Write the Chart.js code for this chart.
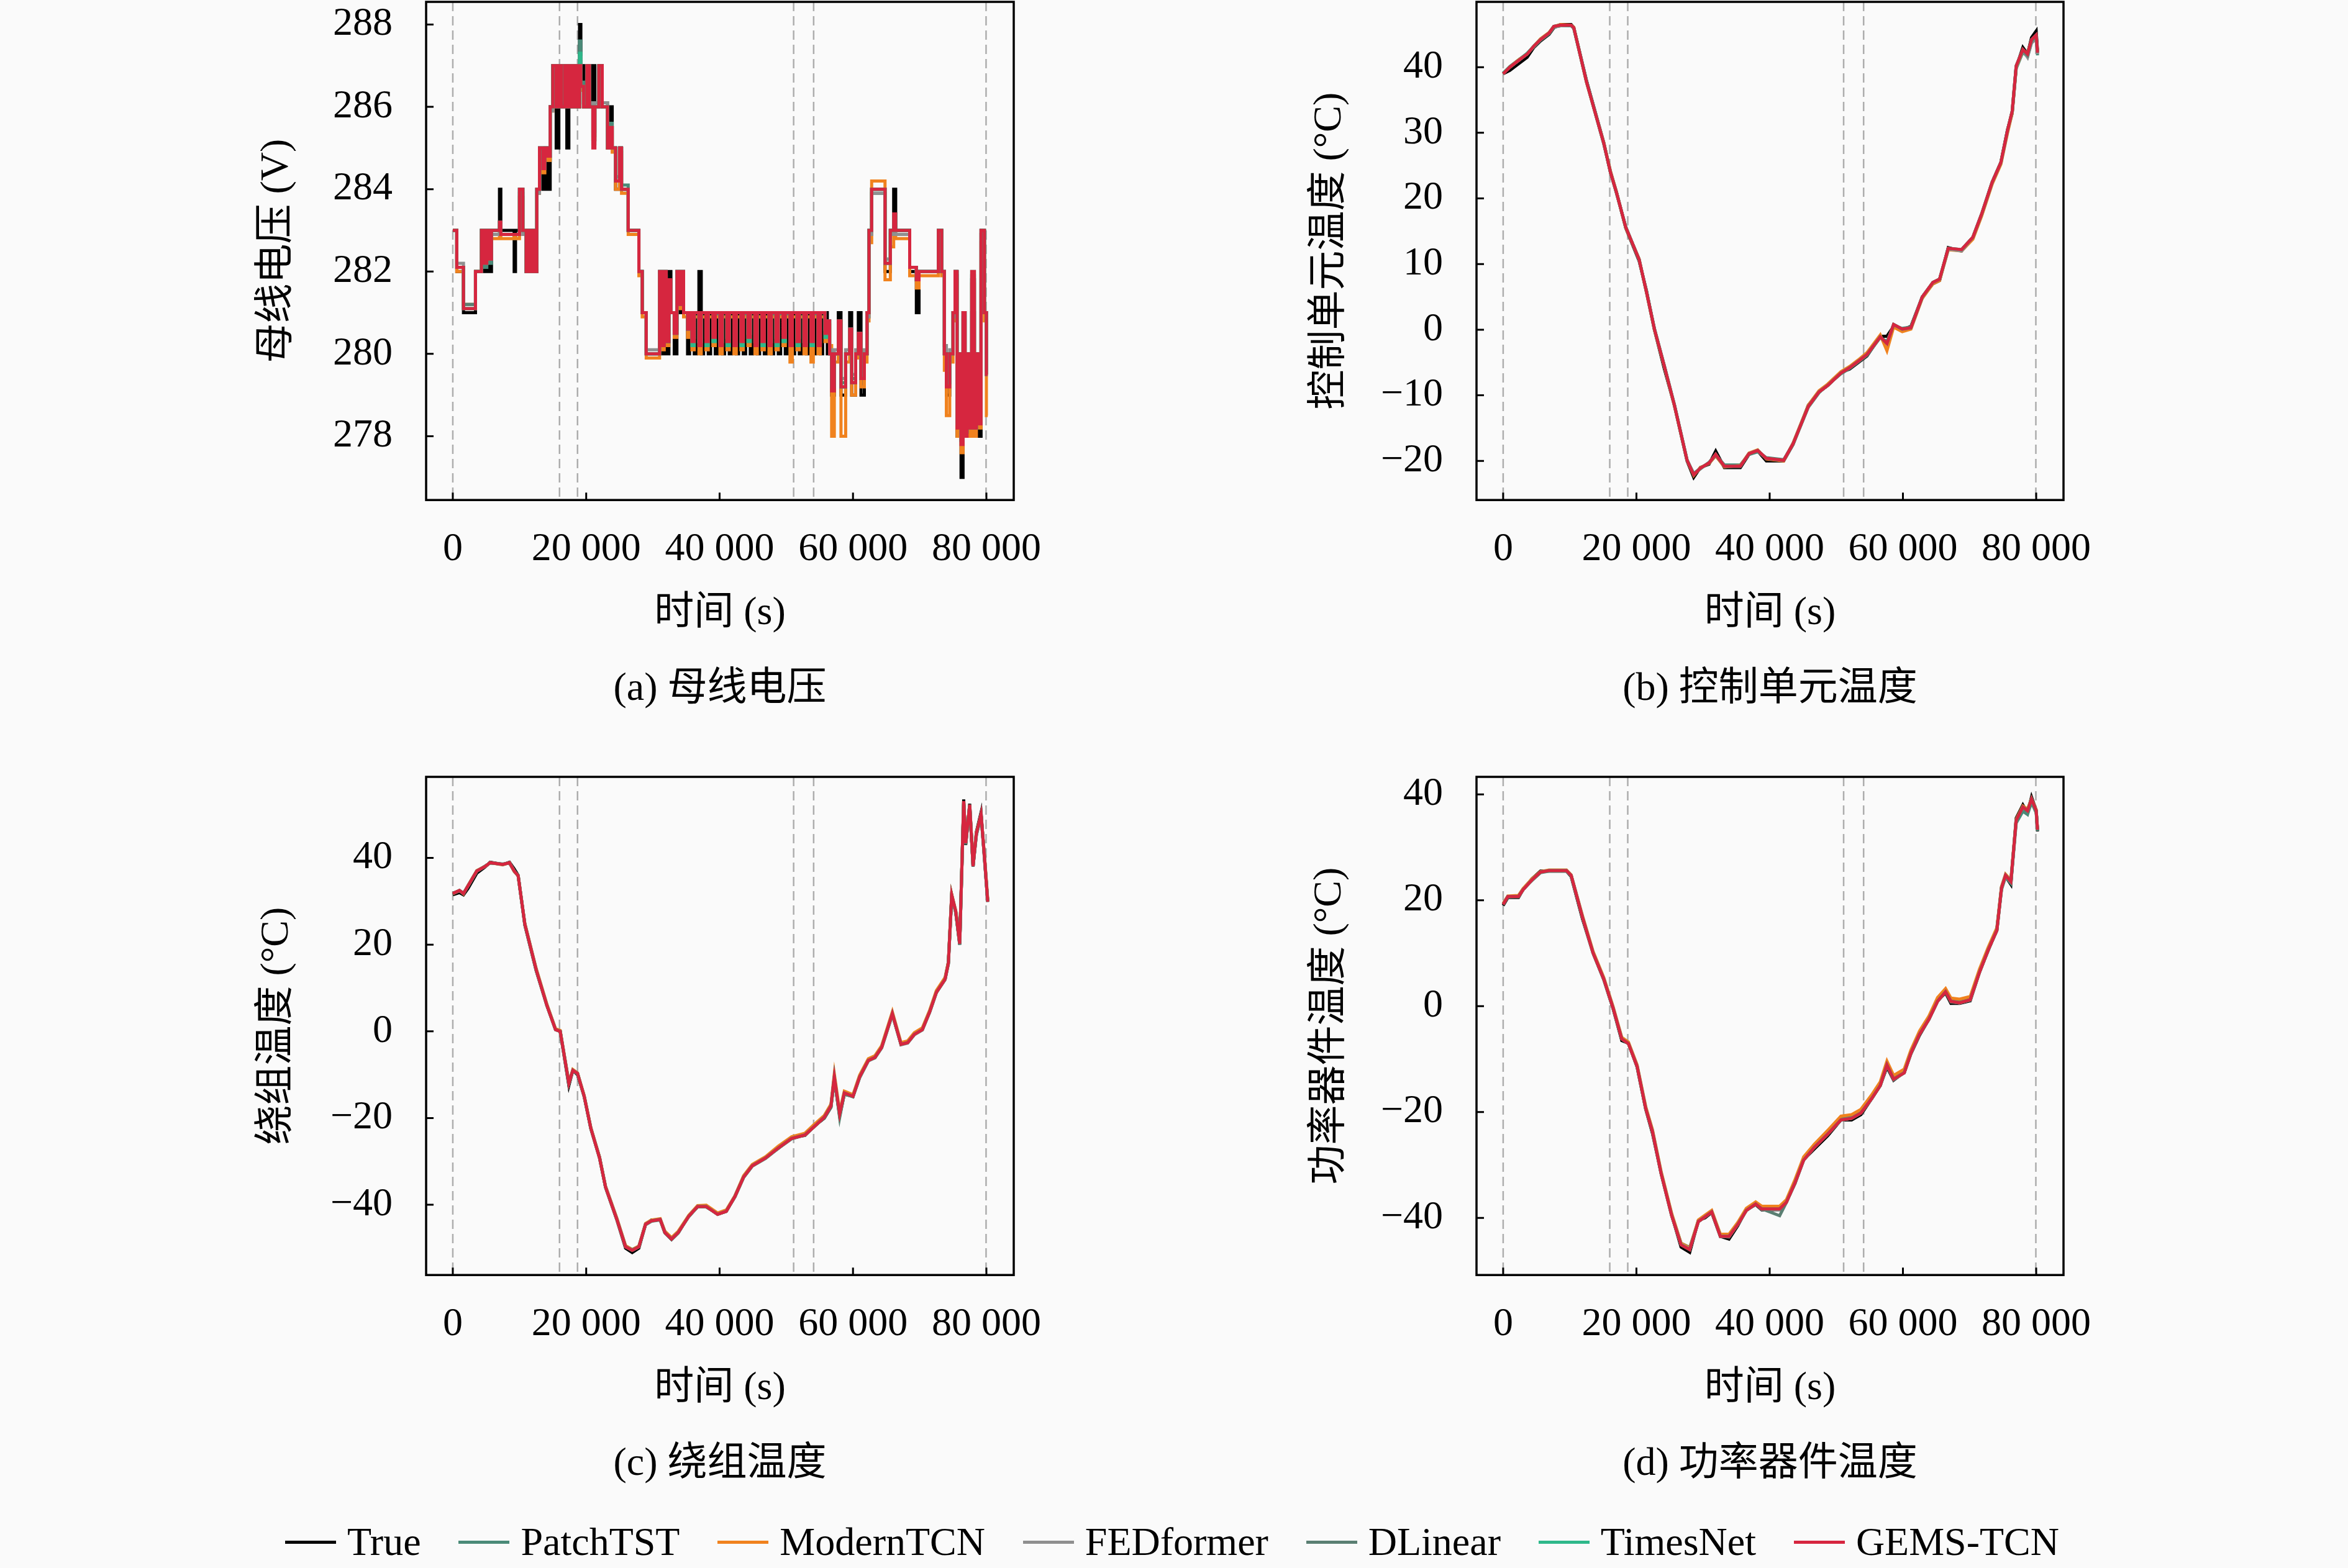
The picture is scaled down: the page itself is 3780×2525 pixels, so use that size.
<!DOCTYPE html>
<html lang="zh">
<head>
<meta charset="utf-8">
<title>预测结果对比</title>
<script src="https://cdn.jsdelivr.net/npm/chart.js@4.4.1/dist/chart.umd.min.js"></script>
<style>
  html, body { margin: 0; padding: 0; background: #fafafa; }
  body { width: 3780px; height: 2525px; position: relative; overflow: hidden;
         font-family: 'Liberation Serif', 'Noto Sans CJK SC', serif; }
  .panel { position: absolute; }
  #legend { position: absolute; left: 459px; top: 2450px; width: 2856px; height: 66px;
            display: flex; justify-content: space-between; align-items: center;
            font-size: 64px; color: #000; }
  .item { display: flex; align-items: center; white-space: nowrap; }
  .item i { display: inline-block; width: 82px; height: 5px; margin-right: 18px; }
</style>
</head>
<body>
<div class="panel" style="left:400px;top:0px"><canvas id="chart-a" width="1332" height="1159"></canvas></div>
<div class="panel" style="left:2095px;top:0px"><canvas id="chart-b" width="1327" height="1159"></canvas></div>
<div class="panel" style="left:400px;top:1248px"><canvas id="chart-c" width="1332" height="1159"></canvas></div>
<div class="panel" style="left:2095px;top:1248px"><canvas id="chart-d" width="1327" height="1159"></canvas></div>
<div id="legend"></div>

<script>
// ---- shared ----
const seriesNames = ['True', 'PatchTST', 'ModernTCN', 'FEDformer', 'DLinear', 'TimesNet', 'GEMS-TCN'];
const seriesColors = ['#000000', '#4a8a78', '#f0821e', '#8f8f8f', '#5a7f72', '#2eb88a', '#d6263f'];
const splitTimes = [0, 16000, 18700, 51100, 54100, 79950];
const xTicks = [0, 20000, 40000, 60000, 80000];
const xTickLabels = ['0', '20 000', '40 000', '60 000', '80 000'];

// ---- (a) 母线电压 ----
const tA = [0,600,1600,3400,4300,4700,5100,5500,5800,7000,
  7200,9200,9400,10000,10500,11000,11400,11700,12100,12300,
  12600,13000,13500,13800,14200,14600,15000,15500,15900,16300,
  16800,17100,17400,17800,18200,18600,19000,19200,19600,20100,
  20500,21000,21300,21900,22400,23200,23600,23900,24400,25000,
  25300,26300,27900,28400,29000,31000,31300,31700,32000,32400,
  32700,33200,33600,33900,34300,34600,35200,
  35500,35850,36200,36550,36900,37250,37600,37950,38300,38650,
  39000,39350,39700,40050,40400,40750,41100,41450,41800,42150,
  42500,42850,43200,43550,43900,44250,44600,44950,45300,45650,
  46000,46350,46700,47050,47400,47750,48100,48450,48800,49150,
  49500,49850,50200,50550,50900,51250,51600,51950,52300,52650,
  53000,53350,53700,54050,54400,54750,55100,55450,55800,56150,
  56500,56800,57200,57800,58200,58900,59500,59800,60400,60800,
  61200,61700,62100,62400,62800,64800,65600,66100,66400,68500,
  69500,69900,72800,73300,73700,74000,74500,75000,75300,75600,
  75900,76200,76500,76800,77100,77400,77800,78200,78500,78900,
  79200,79700,80000,80200];
const aTrue = [283,282,281,282,283,282,283,282,283,284,
  283,282,283,284,283,282,283,282,283,282,
  284,285,284,285,284,286,287,285,287,286,
  287,285,287,286,287,286,288,287,286,287,
  286,287,286,287,286,285,286,285,284,285,
  284,283,282,281,280,282,280,282,280,282,
  281,280,282,281,282,281,280,
  281,281,280,281,282,280,281,281,280,281,
  281,280,281,281,280,281,281,280,281,281,
  280,281,281,280,281,281,280,281,281,280,
  281,281,280,281,281,280,281,281,280,281,
  281,280,281,281,280,281,281,280,281,281,
  280,281,281,280,281,281,280,281,281,280,
  280,279,280,281,279,280,281,279,280,281,
  279,280,281,283,284,282,283,284,283,282,
  281,282,283,282,280,279,280,281,282,278,
  280,277,281,278,280,278,281,278,280,278,
  283,281,280,280];
const aPatchTST = [283,282.1,281.1,282,283,282.1,283,282.2,283,283.1,
  282.9,282.8,282.9,283.9,283,282.1,283,282.1,283,282.1,
  284,284.9,284.5,285,284.7,286,287,286.1,287,286.1,
  287,286.1,287,286.1,287,286.1,287.6,286.6,286.1,287,
  286.1,285.3,286.1,286.9,286.1,285.1,285.6,285,284.3,285,
  284.1,283,282,281,280,281.9,280.3,281.9,280.3,281.8,
  281,280.6,281.9,281.2,281.9,281,280.6,
  280.9,280.4,281,281,280.3,280.9,280.9,280.4,281,281,
  280.5,281,280.9,280.3,281,281,280.4,280.9,280.9,280.3,
  281,281,280.4,281,280.9,280.5,281,281,280.3,280.9,
  280.9,280.4,281,281,280.3,281,280.9,280.4,280.9,281,
  280.5,281,280.9,280.3,281,281,280.4,280.9,280.9,280.3,
  281,281,280.4,281,280.9,280.3,281,281,280.6,280.8,
  280.1,279.3,280,280.7,279.3,280,280.6,279.4,280,280.5,
  279.5,280,280.9,282.9,283.9,282.3,283,283.3,283,282.1,
  281.8,282,282.9,282,280.2,279.4,280,281,281.9,278.4,
  280,278,281,278.2,280,278.3,281.8,278.3,280,278.4,
  282.9,281,279.6,279.6];
const aModernTCN = [283,282,281.2,282,282.9,282.3,282.9,282.4,282.8,283.1,
  282.8,282.9,282.8,283.8,283,282.1,282.9,282.1,282.9,282.2,
  283.9,284.8,284.4,284.9,284.7,285.9,286.8,286,286.8,286.1,
  286.8,286,286.8,286.1,286.8,286,286.9,286.4,286,286.8,
  286.1,285.2,286,286.8,286,285,285.4,284.9,284,284.9,
  283.9,282.9,281.9,280.9,279.9,281.9,280.1,281.8,280.2,281.7,
  281,280.4,281.8,281.1,281.9,280.9,280.4,
  280.9,280.1,280.9,280.9,280,280.9,280.9,280.1,280.9,280.9,
  280.2,280.9,280.9,280,280.9,280.9,280.1,280.9,280.9,280,
  280.9,280.9,280.1,280.9,280.9,280.2,280.9,280.9,280,280.9,
  280.9,280.1,280.9,280.9,280,280.9,280.9,280.1,280.9,280.9,
  280.2,280.9,280.9,279.8,280.9,280.9,280.1,280.9,280.9,280,
  280.9,280.9,279.8,280.9,280.9,280,280.9,280.9,280.3,280.7,
  280.2,278,279.8,280.8,278,279.8,280.5,279,279.9,280.4,
  279.2,279.8,280.8,282.7,284.2,281.8,282.6,283,282.8,281.9,
  281.6,281.9,282.8,281.9,279.6,278.5,279.8,280.8,281.8,278,
  279.8,277.6,280.8,278,279.8,278,281.7,278,279.8,278.2,
  282.7,280.8,278.5,278.5];
const aFEDformer = [283,282.2,281.2,282,282.9,282.2,282.9,282.3,282.9,283.1,
  282.9,282.9,282.9,283.8,282.9,282.1,282.9,282.1,282.9,282.1,
  283.9,284.9,284.5,284.9,284.8,285.9,286.9,286.1,286.9,286.1,
  286.9,286.1,286.9,286.1,286.9,286.1,287.2,286.5,286.1,286.9,
  286.1,285.4,286.1,286.9,286.1,285.1,285.5,285,284.3,284.9,
  284,283,282,281,280.1,281.9,280.3,281.9,280.3,281.7,
  281,280.6,281.9,281.2,281.9,281,280.7,
  281,280.4,281,281,280.3,281,281,280.4,281,281,
  280.5,281,281,280.3,281,281,280.4,281,281,280.3,
  281,281,280.4,281,281,280.5,281,281,280.3,281,
  281,280.4,281,281,280.3,281,281,280.4,281,281,
  280.5,281,281,280.3,281,281,280.4,281,281,280.3,
  281,281,280.4,281,281,280.3,281,281,280.6,280.8,
  280.1,279.3,280.1,280.7,279.4,280.1,280.6,279.5,280.1,280.5,
  279.5,280.1,280.9,282.9,283.9,282.3,282.9,283.3,282.9,282.1,
  281.8,282,282.9,282,280.2,279.3,280.1,280.9,281.9,278.4,
  280,278,280.9,278.2,280,278.3,281.8,278.3,280,278.4,
  282.9,281,279.6,279.6];
const aDLinear = [283,282.1,281.2,282,283,282.2,283,282.3,283,283.2,
  282.9,282.9,282.9,284,283,282,283,282,283,282.1,
  284,285,284.5,285,284.8,286,287,286,287,286.1,
  287,286,287,286.1,287,286,287.1,286.5,286,287,
  286,285.2,286,287,286,285,285.5,285,284.2,285,
  284,283,282,281,280,282,280.2,282,280.3,281.8,
  281,280.5,282,281.2,282,281,280.6,
  281,280.3,281,281,280.3,281,281,280.3,281,281,
  280.4,281,281,280.3,281,281,280.3,281,281,280.3,
  281,281,280.3,281,281,280.4,281,281,280.3,281,
  281,280.3,281,281,280.3,281,281,280.3,281,281,
  280.4,281,281,280.3,281,281,280.3,281,281,280.3,
  281,281,280.3,281,281,280.3,281,281,280.5,280.8,
  280,279.2,280,280.8,279.2,280,280.6,279.3,280,280.5,
  279.4,280,281,283,284,282.2,283,283.4,283,282.1,
  281.8,282,283,282,280,279.3,280,281,282,278.3,
  280,277.9,281,278.1,280,278.2,281.9,278.2,280,278.3,
  283,281,279.5,279.5];
const aTimesNet = [283,282.1,281.1,282,283,282.2,283,282.3,283,283.2,
  282.9,282.9,282.9,284,283,282,283,282,283,282,
  284,285,284.5,285,284.8,286,287,286,287,286,
  287,286,287,286,287,286,287.3,286.5,286,287,
  286,285.1,286,287,286,285,285.5,285,284.2,285,
  284,283,282,281,280,282,280.2,282,280.3,281.8,
  281,280.5,282,281.2,282,281,280.6,
  281,280.2,281,281,280.2,281,281,280.2,281,281,
  280.3,281,281,280.2,281,281,280.2,281,281,280.2,
  281,281,280.2,281,281,280.3,281,281,280.2,281,
  281,280.2,281,281,280.2,281,281,280.2,281,281,
  280.3,281,281,280.2,281,281,280.2,281,281,280.2,
  281,281,280.2,281,281,280.2,281,281,280.4,280.8,
  280,279.2,280,280.8,279.2,280,280.6,279.3,280,280.5,
  279.4,280,281,283,284,282.2,283,283.4,283,282.1,
  281.8,282,283,282,280,279.3,280,281,282,278.3,
  280,277.9,281,278.1,280,278.2,282,278.2,280,278.3,
  283,281,279.5,279.5];
const aGEMS = [283,282.1,281.1,282,283,282.2,283,282.3,283,283.2,
  282.9,282.9,282.9,284,283,282,283,282,283,282,
  284,285,284.5,285,284.8,286,287,286,287,286,
  287,286,287,286,287,286,287,286.5,286,287,
  286,285,286,287,286,285,285.5,285,284.2,285,
  284,283,282,281,280,282,280.2,282,280.3,281.8,
  281,280.5,282,281.2,282,281,280.6,
  281,280.3,281,281,280.2,281,281,280.3,281,281,
  280.4,281,281,280.2,281,281,280.3,281,281,280.2,
  281,281,280.3,281,281,280.4,281,281,280.2,281,
  281,280.3,281,281,280.2,281,281,280.3,281,281,
  280.4,281,281,280.2,281,281,280.3,281,281,280.2,
  281,281,280.3,281,281,280.2,281,281,280.5,280.8,
  280,279.1,280,280.8,279.2,280,280.6,279.3,280,280.5,
  279.4,280,281,283,284,282.2,283,283.4,283,282.1,
  281.8,282,283,282,280,279.2,280,281,282,278.2,
  280,277.8,281,278,280,278.2,282,278.2,280,278.3,
  283,281,279.5,279.5];
const yTicksA = [278, 280, 282, 284, 286, 288];
const yTickLabelsA = ['278', '280', '282', '284', '286', '288'];

// ---- (b) 控制单元温度 ----
const tB = [0,1000,2300,3600,4600,5600,6900,7600,8600,10200,
  10600,12500,15100,16100,17000,18400,20400,21500,22700,24200,
  25700,27600,28600,29600,30900,31900,33200,35600,36900,38200,
  39500,42100,43500,45800,47400,48700,50700,52000,53300,54600,
  56600,57600,58600,59900,61200,62900,64500,65500,66800,68800,
  70500,71800,73400,74700,75700,76400,77000,78000,78700,79300,
  80000,80200];
const bTrue = [39.0,39.5,40.5,41.5,43.0,44.0,45.0,46.0,46.5,46.5,
  46.0,38.0,28.5,24.0,21.0,15.5,10.5,6.0,0.0,-6.0,
  -11.5,-20.0,-22.5,-21.0,-20.5,-18.5,-21.0,-21.0,-19.0,-18.5,
  -20.0,-20.0,-17.5,-11.5,-9.5,-8.5,-6.5,-6.0,-5.0,-4.0,
  -1.0,-1.0,0.5,0.0,0.5,5.0,7.0,7.5,12.5,12.0,
  14.0,17.5,22.5,25.5,30.5,33.0,40.0,43.0,42.0,44.5,
  45.5,42.5];
const bPatchTST = [39.1,40.1,41.1,42.1,43.1,44.1,45.1,46.1,46.3,46.3,
  45.9,37.9,28.3,24.1,20.8,15.7,10.6,5.9,0.2,-5.5,
  -11.4,-19.8,-22.0,-21.2,-20.2,-19.1,-20.6,-20.6,-19.0,-18.6,
  -19.5,-19.8,-17.5,-11.8,-9.6,-8.4,-6.7,-5.9,-4.9,-3.9,
  -1.2,-1.8,0.6,0.2,0.4,4.8,7.1,7.6,12.2,12.1,
  14.0,17.4,22.4,25.4,30.2,33.1,39.8,42.3,41.6,43.8,
  44.4,41.8];
const bModernTCN = [39.0,40.0,41.1,42.0,43.2,44.3,45.3,46.2,46.5,46.4,
  46.1,37.7,28.5,24.2,21.0,15.5,10.8,5.7,0.0,-5.7,
  -11.6,-19.9,-22.2,-21.0,-20.4,-19.2,-20.9,-20.7,-18.8,-18.3,
  -19.7,-20.0,-17.3,-11.5,-9.3,-8.3,-6.4,-5.6,-4.6,-3.5,
  -0.8,-3.2,0.4,-0.3,0.1,4.8,7.0,7.5,12.2,12.0,
  13.8,17.3,22.2,25.2,30.0,33.0,40.0,42.5,42.2,44.0,
  44.6,42.4];
const bFEDformer = [39.0,40.0,41.0,42.0,43.2,44.2,45.2,46.1,46.3,46.4,
  46.0,37.8,28.4,24.0,20.9,15.6,10.7,5.8,0.1,-5.6,
  -11.5,-19.9,-21.9,-21.1,-20.3,-19.0,-20.8,-20.8,-18.9,-18.4,
  -19.6,-19.9,-17.4,-11.7,-9.5,-8.5,-6.6,-5.8,-4.8,-3.8,
  -1.1,-2.0,0.8,0.1,0.3,5.0,7.2,7.7,12.3,12.0,
  14.1,17.6,22.5,25.5,30.4,33.3,40.1,42.6,41.5,43.7,
  44.3,42.0];
const bDLinear = [39.0,40.0,41.0,42.0,43.1,44.2,45.2,46.2,46.4,46.4,
  46.0,37.9,28.4,24.0,20.9,15.6,10.7,5.8,0.1,-5.6,
  -11.5,-19.9,-22.0,-21.1,-20.3,-19.1,-20.8,-20.8,-18.9,-18.5,
  -19.6,-19.9,-17.4,-11.7,-9.5,-8.5,-6.6,-5.8,-4.8,-3.8,
  -1.1,-2.0,0.8,0.1,0.3,5.0,7.2,7.7,12.4,12.2,
  14.1,17.6,22.5,25.5,30.4,33.3,40.2,42.6,41.8,44.0,
  44.7,42.3];
const bTimesNet = [39.1,40.0,41.0,42.1,43.2,44.2,45.2,46.2,46.4,46.4,
  46.0,37.8,28.4,24.0,20.9,15.6,10.7,5.8,0.1,-5.6,
  -11.5,-19.9,-22.1,-21.1,-20.3,-19.0,-20.8,-20.8,-18.9,-18.4,
  -19.6,-19.9,-17.4,-11.7,-9.5,-8.5,-6.6,-5.8,-4.8,-3.8,
  -1.1,-2.1,0.8,0.1,0.3,5.0,7.2,7.7,12.4,12.2,
  14.1,17.6,22.5,25.5,30.4,33.3,40.2,42.7,42.0,44.2,
  44.9,42.2];
const bGEMS = [39.0,40.0,41.0,42.0,43.2,44.2,45.2,46.2,46.4,46.4,
  46.0,37.8,28.4,24.0,20.9,15.6,10.7,5.8,0.1,-5.6,
  -11.5,-19.9,-22.1,-21.1,-20.3,-19.0,-20.8,-20.8,-18.9,-18.4,
  -19.6,-19.9,-17.4,-11.7,-9.5,-8.5,-6.6,-5.8,-4.8,-3.8,
  -1.1,-2.1,0.8,0.1,0.3,5.0,7.2,7.7,12.4,12.2,
  14.1,17.6,22.5,25.5,30.4,33.3,40.2,42.7,42.0,44.2,
  44.9,42.2];
const yTicksB = [-20, -10, 0, 10, 20, 30, 40];
const yTickLabelsB = ['\u221220', '\u221210', '0', '10', '20', '30', '40'];

// ---- (c) 绕组温度 ----
const tC = [0,1000,1600,2300,3600,4900,5600,7500,8500,9200,
  9800,10800,12500,14100,15400,16100,17400,18000,18700,19700,
  20700,22000,22900,24600,25900,26900,27900,28900,29800,31100,
  31800,32800,33800,35400,36700,38000,39700,41000,42300,43600,
  44900,46900,48800,50800,52800,54100,55700,56700,57200,58000,
  58700,60000,61000,62300,63300,64300,65900,67200,68200,69200,
  70400,71500,72500,73800,74300,74800,75400,76000,76600,76900,
  77500,78000,78500,79200,79700,80200];
const cTrue = [31.5,32.0,31.5,33.0,36.5,38.0,39.0,38.5,39.0,37.5,
  36.0,24.5,14.0,6.0,0.5,0.0,-12.5,-9.0,-10.0,-15.0,
  -22.5,-29.0,-36.0,-43.5,-50.0,-51.0,-50.0,-44.5,-43.5,-43.5,
  -46.5,-48.0,-46.5,-42.5,-40.5,-40.5,-42.0,-41.5,-38.0,-33.5,
  -31.0,-29.0,-27.0,-24.5,-24.0,-22.0,-20.0,-17.5,-11.0,-19.5,
  -14.5,-15.0,-10.5,-6.5,-6.0,-3.5,4.0,-3.0,-2.5,-0.5,
  0.5,4.5,9.0,12.0,16.0,31.5,27.5,20.0,53.5,43.0,
  52.5,38.0,46.0,50.5,40.0,30.0];
const cPatchTST = [31.9,32.4,31.9,33.5,36.9,38.2,38.8,38.6,38.8,37.1,
  35.8,24.8,14.3,6.1,0.5,0.1,-11.8,-9.1,-9.8,-15.1,
  -22.3,-29.1,-35.8,-43.2,-49.5,-50.3,-49.6,-44.6,-43.8,-43.5,
  -46.2,-47.7,-46.3,-42.7,-40.5,-40.5,-42.1,-41.4,-38.2,-33.7,
  -31.1,-29.3,-27.0,-24.8,-23.9,-22.0,-19.9,-17.4,-11.0,-18.8,
  -14.4,-15.1,-10.7,-6.8,-6.1,-3.8,3.8,-2.9,-2.5,-0.6,
  0.5,4.6,9.1,12.1,15.8,31.0,27.5,20.4,52.6,43.6,
  51.8,38.4,45.3,49.6,40.6,30.2];
const cModernTCN = [31.7,32.5,31.7,33.7,37.1,38.1,38.9,38.4,38.9,36.9,
  35.9,24.9,14.5,6.3,0.6,0.2,-11.7,-8.8,-9.6,-14.8,
  -22.2,-29.0,-35.7,-43.1,-49.4,-50.4,-49.5,-44.3,-43.5,-43.2,
  -46.1,-47.6,-46.1,-42.4,-40.2,-40.1,-41.9,-41.2,-37.9,-33.3,
  -30.7,-28.9,-26.5,-24.3,-23.5,-21.6,-19.4,-16.8,-9.8,-18.5,
  -13.8,-14.6,-10.1,-6.3,-5.6,-3.3,4.5,-2.6,-2.2,-0.3,
  0.8,4.9,9.4,12.4,16.0,31.6,27.9,20.5,53.0,43.8,
  52.1,38.5,45.8,50.0,40.8,30.5];
const cFEDformer = [31.8,32.5,31.8,33.6,37.0,38.1,38.9,38.5,38.9,37.0,
  35.9,24.7,14.2,6.0,0.4,0.0,-12.0,-9.0,-9.7,-15.0,
  -22.4,-29.2,-35.9,-43.4,-49.7,-50.5,-49.7,-44.5,-43.7,-43.4,
  -46.4,-47.9,-46.4,-42.6,-40.4,-40.4,-42.2,-41.5,-38.1,-33.6,
  -31.0,-29.2,-26.9,-24.7,-23.9,-22.1,-19.8,-17.2,-10.8,-19.4,
  -14.3,-15.0,-10.6,-6.8,-6.0,-3.8,3.9,-3.1,-2.7,-0.8,
  0.3,4.4,8.9,11.9,15.5,31.0,27.4,20.1,52.7,43.2,
  51.9,38.0,45.4,49.8,40.2,29.8];
const cDLinear = [31.8,32.4,31.8,33.6,37.0,38.1,38.9,38.5,38.9,37.0,
  35.9,24.7,14.2,6.0,0.4,0.0,-12.0,-9.0,-9.7,-15.0,
  -22.4,-29.2,-35.9,-43.4,-49.7,-50.5,-49.7,-44.5,-43.7,-43.4,
  -46.4,-47.9,-46.4,-42.6,-40.4,-40.4,-42.2,-41.5,-38.1,-33.6,
  -31.0,-29.2,-26.9,-24.7,-23.9,-22.1,-19.8,-17.2,-10.6,-19.9,
  -14.3,-15.0,-10.5,-6.7,-6.0,-3.7,4.0,-3.0,-2.6,-0.7,
  0.4,4.5,9.0,12.0,15.6,31.2,27.6,20.0,52.8,43.2,
  52.0,38.0,45.4,49.9,40.3,29.9];
const cTimesNet = [31.8,32.5,31.8,33.6,37.0,38.1,38.9,38.5,38.9,37.0,
  35.9,24.7,14.2,6.0,0.4,0.0,-12.0,-9.0,-9.7,-15.0,
  -22.4,-29.2,-35.9,-43.4,-49.7,-50.5,-49.7,-44.5,-43.7,-43.4,
  -46.4,-47.9,-46.4,-42.6,-40.4,-40.4,-42.2,-41.5,-38.1,-33.6,
  -31.0,-29.2,-26.9,-24.7,-23.9,-22.1,-19.8,-17.2,-10.5,-19.3,
  -14.2,-15.0,-10.5,-6.7,-6.0,-3.7,4.1,-3.0,-2.6,-0.7,
  0.4,4.5,9.0,12.0,15.7,31.4,27.7,20.2,53.1,43.4,
  52.3,38.1,45.6,50.1,40.4,29.9];
const cGEMS = [31.8,32.5,31.8,33.6,37.0,38.1,38.9,38.5,38.9,37.0,
  35.9,24.7,14.2,6.0,0.4,0.0,-12.0,-9.0,-9.7,-15.0,
  -22.4,-29.2,-35.9,-43.4,-49.7,-50.5,-49.7,-44.5,-43.7,-43.4,
  -46.4,-47.9,-46.4,-42.6,-40.4,-40.4,-42.2,-41.5,-38.1,-33.6,
  -31.0,-29.2,-26.9,-24.7,-23.9,-22.1,-19.8,-17.2,-10.5,-19.1,
  -14.2,-15.0,-10.5,-6.7,-6.0,-3.7,4.1,-3.0,-2.6,-0.7,
  0.4,4.5,9.0,12.0,15.7,31.4,27.7,20.2,53.1,43.4,
  52.3,38.1,45.6,50.1,40.4,29.9];
const yTicksC = [-40, -20, 0, 20, 40];
const yTickLabelsC = ['\u221240', '\u221220', '0', '20', '40'];

// ---- (d) 功率器件温度 ----
const tD = [0,700,2300,3000,4300,5600,6900,9500,10200,11900,
  13500,15100,16500,17800,18800,20100,21400,22400,23700,25300,
  26700,28000,29300,30300,31300,32600,33900,35200,36500,37900,
  38800,41500,42500,43800,45100,46700,48700,50700,52300,53700,
  55300,56600,57600,58600,60200,61200,62500,63900,65200,66400,
  67200,68500,70100,71500,72800,74100,74800,75400,76200,77000,
  78000,78700,79300,80000,80200];
const dTrue = [19.0,20.5,20.5,22.0,24.0,25.5,25.5,25.5,24.5,16.5,
  10.0,5.0,-0.5,-6.5,-7.0,-11.5,-19.5,-24.0,-31.5,-39.5,
  -45.5,-46.5,-40.5,-40.0,-39.0,-43.5,-44.0,-41.5,-38.5,-37.5,
  -38.5,-38.5,-37.0,-33.5,-29.0,-27.0,-24.5,-21.5,-21.5,-20.5,
  -17.5,-15.0,-11.5,-14.0,-12.5,-9.0,-5.5,-2.5,1.0,2.5,
  0.5,0.5,1.0,6.5,10.5,14.5,22.5,24.5,23.0,35.5,
  38.0,36.5,39.5,37.0,33.0];
const dPatchTST = [19.3,20.6,20.8,22.1,23.7,25.2,25.5,25.5,24.6,16.9,
  10.1,5.2,-0.3,-6.1,-7.0,-11.3,-19.2,-23.5,-31.4,-39.4,
  -44.8,-45.6,-40.6,-39.7,-38.8,-43.2,-43.2,-41.1,-38.5,-37.3,
  -38.1,-38.1,-36.9,-33.2,-28.9,-26.5,-24.0,-21.2,-20.9,-19.9,
  -17.2,-14.7,-10.8,-13.5,-12.3,-8.6,-5.0,-2.2,1.2,3.0,
  1.2,0.9,1.5,6.7,10.9,14.6,22.0,24.4,23.2,34.6,
  36.8,36.2,38.5,36.5,33.1];
const dModernTCN = [19.4,20.8,20.9,22.2,24.0,25.4,25.7,25.7,24.8,17.1,
  10.3,5.4,-0.1,-5.9,-6.8,-11.1,-19.0,-23.3,-31.2,-39.2,
  -44.8,-45.7,-40.4,-39.5,-38.6,-43.1,-43.1,-40.9,-38.2,-37.0,
  -37.8,-37.8,-36.6,-32.8,-28.5,-26.1,-23.5,-20.8,-20.5,-19.5,
  -16.8,-14.3,-10.4,-13.1,-11.9,-8.3,-4.7,-1.9,1.6,3.3,
  1.5,1.3,1.8,7.0,11.1,14.8,22.6,24.9,23.8,35.3,
  37.8,37.2,39.2,37.1,33.4];
const dFEDformer = [19.2,20.7,20.7,22.0,23.8,25.3,25.6,25.6,24.7,16.8,
  10.0,5.1,-0.4,-6.2,-7.1,-11.4,-19.4,-23.7,-31.6,-39.6,
  -45.0,-45.9,-40.7,-39.8,-38.9,-43.5,-43.6,-41.3,-38.6,-37.4,
  -38.4,-38.5,-37.1,-33.4,-29.1,-26.7,-24.2,-21.5,-21.2,-20.2,
  -17.5,-15.0,-11.2,-13.9,-12.6,-8.9,-5.3,-2.5,0.9,2.7,
  0.8,0.6,1.1,6.4,10.6,14.3,22.3,24.7,23.5,35.1,
  37.6,36.9,39.1,36.9,33.3];
const dDLinear = [19.2,20.7,20.7,22.0,23.8,25.3,25.6,25.6,24.7,16.8,
  10.0,5.1,-0.4,-6.2,-7.1,-11.4,-19.4,-23.7,-31.6,-39.6,
  -45.1,-46.0,-40.7,-39.8,-38.9,-43.5,-43.5,-41.3,-38.6,-37.4,
  -38.3,-39.6,-37.1,-33.4,-29.1,-26.7,-24.2,-21.5,-21.2,-20.2,
  -17.5,-15.0,-11.1,-13.8,-12.6,-8.9,-5.3,-2.5,0.9,2.7,
  0.9,0.6,1.2,6.4,10.6,14.3,22.3,24.7,23.5,35.1,
  37.6,36.9,39.1,36.9,33.3];
const dTimesNet = [19.2,20.7,20.7,22.0,23.8,25.3,25.6,25.6,24.7,16.8,
  10.0,5.1,-0.4,-6.2,-7.1,-11.4,-19.4,-23.7,-31.6,-39.6,
  -45.1,-46.0,-40.7,-39.8,-38.9,-43.5,-43.5,-41.3,-38.6,-37.4,
  -38.3,-38.3,-37.1,-33.4,-29.1,-26.7,-24.2,-21.5,-21.2,-20.2,
  -17.5,-15.0,-11.1,-13.8,-12.6,-8.9,-5.3,-2.5,0.9,2.7,
  0.9,0.6,1.2,6.4,10.6,14.3,22.3,24.7,23.5,35.1,
  37.6,36.9,39.1,36.9,33.3];
const dGEMS = [19.2,20.7,20.7,22.0,23.8,25.3,25.6,25.6,24.7,16.8,
  10.0,5.1,-0.4,-6.2,-7.1,-11.4,-19.4,-23.7,-31.6,-39.6,
  -45.1,-46.0,-40.7,-39.8,-38.9,-43.5,-43.5,-41.3,-38.6,-37.4,
  -38.3,-38.3,-37.1,-33.4,-29.1,-26.7,-24.2,-21.5,-21.2,-20.2,
  -17.5,-15.0,-11.1,-13.8,-12.6,-8.9,-5.3,-2.5,0.9,2.7,
  0.9,0.6,1.2,6.4,10.6,14.3,22.3,24.7,23.5,35.1,
  37.6,36.9,39.1,36.9,33.3];
const yTicksD = [-40, -20, 0, 20, 40];
const yTickLabelsD = ['\u221240', '\u221220', '0', '20', '40'];

// ---- drawing ----
const FONT = "'Liberation Serif', 'Noto Sans CJK SC', serif";

// dashed split lines behind the data, frame and inward ticks on top
const framePlugin = {
    id: 'frame',
    beforeDatasetsDraw(chart) {
        const {ctx, chartArea: a, scales: {x}} = chart;
        ctx.save();
        ctx.strokeStyle = '#adadad';
        ctx.lineWidth = 2.5;
        ctx.setLineDash([15, 8]);
        splitTimes.forEach(t => {
            const px = x.getPixelForValue(t);
            ctx.beginPath();
            ctx.moveTo(px, a.top);
            ctx.lineTo(px, a.bottom);
            ctx.stroke();
        });
        ctx.restore();
    },
    afterDraw(chart) {
        const {ctx, chartArea: a, scales: {x, y}} = chart;
        ctx.save();
        ctx.strokeStyle = '#000';
        ctx.lineWidth = 3;
        ctx.beginPath();
        x.ticks.forEach(t => {
            const px = x.getPixelForValue(t.value);
            ctx.moveTo(px, a.bottom);
            ctx.lineTo(px, a.bottom - 12);
        });
        y.ticks.forEach(t => {
            const py = y.getPixelForValue(t.value);
            ctx.moveTo(a.left, py);
            ctx.lineTo(a.left + 12, py);
        });
        ctx.stroke();
        ctx.lineWidth = 3.5;
        ctx.strokeRect(a.left, a.top, a.right - a.left, a.bottom - a.top);
        ctx.restore();
    }
};

function makeChart(id, cfg) {
    // value i is held from t[i] to t[i+1] when stepped ('before' in Chart.js terms)
    const datasets = cfg.series.map((vals, i) => ({
        label: seriesNames[i],
        data: cfg.ts.map((t, k) => ({x: t, y: vals[k]})),
        borderColor: seriesColors[i],
        backgroundColor: seriesColors[i],
        borderWidth: 5,
        pointRadius: 0,
        stepped: cfg.stepped ? 'before' : false,
        tension: 0,
        order: seriesNames.length - 1 - i
    }));

    const textFont = {family: FONT, size: 64, weight: 'normal'};

    return new Chart(document.getElementById(id).getContext('2d'), {
        type: 'line',
        data: {datasets},
        plugins: [framePlugin],
        options: {
            responsive: false,
            animation: false,
            devicePixelRatio: 1,
            events: [],
            layout: {padding: {left: 8, right: 100, top: 3, bottom: 0}},
            plugins: {
                legend: {display: false},
                tooltip: {enabled: false},
                title: {
                    display: true,
                    position: 'bottom',
                    fullSize: false,
                    text: cfg.title,
                    color: '#000',
                    font: textFont,
                    padding: {top: 46, bottom: 10}
                }
            },
            scales: {
                x: {
                    type: 'linear',
                    min: -4000,
                    max: 84100,
                    grid: {display: false},
                    border: {display: false},
                    afterBuildTicks: s => { s.ticks = xTicks.map(v => ({value: v})); },
                    afterFit: s => { s.height = 221; s.paddingLeft = 0; s.paddingRight = 0; },
                    ticks: {
                        padding: 34,
                        color: '#000',
                        font: textFont,
                        maxRotation: 0,
                        autoSkip: false,
                        callback: (v, i) => xTickLabels[i]
                    },
                    title: {display: true, text: '时间 (s)', color: '#000', font: textFont, padding: 0}
                },
                y: {
                    type: 'linear',
                    min: cfg.yMin,
                    max: cfg.yMax,
                    grid: {display: false},
                    border: {display: false},
                    afterBuildTicks: s => { s.ticks = cfg.yTicks.map(v => ({value: v})); },
                    afterFit: s => { s.width = cfg.yWidth; s.paddingTop = 0; s.paddingBottom = 0; },
                    ticks: {
                        padding: 46,
                        color: '#000',
                        font: textFont,
                        autoSkip: false,
                        callback: (v, i) => cfg.yTickLabels[i]
                    },
                    title: {display: true, text: cfg.yTitle, color: '#000', font: textFont, padding: 0}
                }
            }
        }
    });
}

makeChart('chart-a', {
    ts: tA,
    series: [aTrue, aPatchTST, aModernTCN, aFEDformer, aDLinear, aTimesNet, aGEMS],
    stepped: true,
    yMin: 276.45, yMax: 288.55,
    yTicks: yTicksA, yTickLabels: yTickLabelsA,
    yTitle: '母线电压 (V)', title: '(a) 母线电压',
    yWidth: 278
});

makeChart('chart-b', {
    ts: tB,
    series: [bTrue, bPatchTST, bModernTCN, bFEDformer, bDLinear, bTimesNet, bGEMS],
    yMin: -25.95, yMax: 49.95,
    yTicks: yTicksB, yTickLabels: yTickLabelsB,
    yTitle: '控制单元温度 (°C)', title: '(b) 控制单元温度',
    yWidth: 274
});

makeChart('chart-c', {
    ts: tC,
    series: [cTrue, cPatchTST, cModernTCN, cFEDformer, cDLinear, cTimesNet, cGEMS],
    yMin: -56.2, yMax: 58.7,
    yTicks: yTicksC, yTickLabels: yTickLabelsC,
    yTitle: '绕组温度 (°C)', title: '(c) 绕组温度',
    yWidth: 278
});

makeChart('chart-d', {
    ts: tD,
    series: [dTrue, dPatchTST, dModernTCN, dFEDformer, dDLinear, dTimesNet, dGEMS],
    yMin: -50.8, yMax: 43.3,
    yTicks: yTicksD, yTickLabels: yTickLabelsD,
    yTitle: '功率器件温度 (°C)', title: '(d) 功率器件温度',
    yWidth: 274
});

// shared legend under the four panels
const legend = document.getElementById('legend');
seriesNames.forEach((name, i) => {
    const item = document.createElement('span');
    item.className = 'item';
    const swatch = document.createElement('i');
    swatch.style.background = seriesColors[i];
    item.appendChild(swatch);
    item.appendChild(document.createTextNode(name));
    legend.appendChild(item);
});
</script>
</body>
</html>
